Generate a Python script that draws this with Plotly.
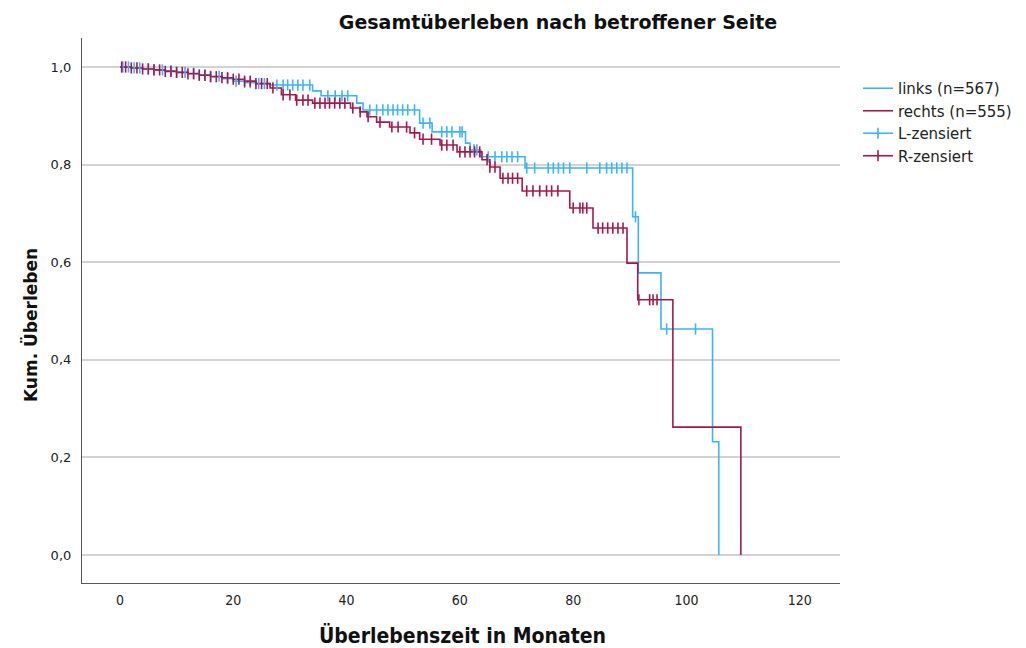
import bisect
import plotly.graph_objects as go

# Kaplan-Meier step curves (month, cumulative survival after the step)
links_t = [0, 2, 4, 6, 8, 10, 12, 14, 16, 18, 20, 22, 24, 26.5, 34, 35.5, 41.8, 42.9,
           52.9, 55.1, 61.0, 61.8, 63.7, 71.5, 90.5, 91.5, 95.5, 104.6, 105.7]
links_s = [1.0, 0.998, 0.996, 0.994, 0.992, 0.989, 0.987, 0.984, 0.981, 0.976, 0.971,
           0.968, 0.966, 0.963, 0.951, 0.941, 0.926, 0.912, 0.885, 0.867, 0.844, 0.83,
           0.816, 0.793, 0.693, 0.578, 0.463, 0.232, 0.0]

rechts_t = [0, 2, 4, 6, 8, 10, 12, 14, 16, 18, 20, 22, 24, 26.5, 28.5, 31, 34, 40.7,
            42.4, 43.6, 45.3, 47.6, 51.2, 52.9, 56.5, 59.5, 63.9, 65.3, 67.1, 71.0,
            79.4, 83.5, 89.5, 91.4, 97.6, 109.6]
rechts_s = [1.0, 0.998, 0.996, 0.994, 0.991, 0.989, 0.986, 0.983, 0.98, 0.978, 0.975,
            0.971, 0.966, 0.957, 0.943, 0.932, 0.926, 0.916, 0.908, 0.898, 0.887, 0.877,
            0.865, 0.852, 0.84, 0.826, 0.81, 0.795, 0.772, 0.746, 0.711, 0.67, 0.598,
            0.523, 0.262, 0.0]

# Censored observations (months)
links_cens = [0.5, 1.5, 2.5, 3.5, 5, 6, 7.5, 9, 10, 11.5, 13, 14, 15, 16, 17.5, 19,
              20.5, 22, 23, 24.5, 25.5, 27.7, 28.8, 29.6, 30.5, 31.4, 32.3, 33.5,
              36.7, 38, 39.2, 40.2, 44.1, 45.3, 46.4, 47.3, 48.2, 49, 49.9, 50.8, 52,
              53.5, 54.7, 56.8, 57.7, 58.6, 60, 60.4, 62.5, 63, 65, 66.2, 67.4, 68.3,
              69.2, 70.2, 71.8, 73.2, 75.6, 76.5, 77.4, 78.3, 79.4, 82.4, 84.7, 85.9,
              86.8, 87.7, 88.6, 89.5, 91, 96.5, 101.6]
rechts_cens = [0.3, 1, 2, 3, 4, 5, 6, 7, 8, 9, 10, 11, 12, 13, 14, 15, 16, 17, 18, 19,
               20, 21, 22, 23, 24, 25, 26, 27, 28.8, 30, 31.2, 32.3, 33.2, 34.4, 35.3,
               36.2, 37, 37.9, 38.8, 39.7, 41.1, 42.4, 43.8, 45.9, 48, 49.1, 50.6, 52,
               53.5, 55, 56.8, 57.7, 58.8, 60, 60.9, 61.8, 62.6, 63.5, 64.8, 65.3, 66.2,
               67.6, 68.5, 69.3, 70.2, 71.8, 72.9, 74.1, 75.3, 76.2, 77.3, 80, 81.2,
               81.7, 82.4, 84.4, 85.2, 86.1, 87, 87.9, 88.8, 91.6, 93.5, 94.1, 94.8]

y_ticks = [0.0, 0.2, 0.4, 0.6, 0.8, 1.0]
x_ticks = [0, 20, 40, 60, 80, 100, 120]

BLUE = "#3db3f8"
RED = "#a3194f"

# plot-area geometry in pixels
FIG_W, FIG_H = 1026, 648
L, R, T, B = 82, 840, 38, 583
PW, PH = R - L, B - T


def surv_at(times, surv, t):
    """Survival value of the step curve at month t."""
    return surv[bisect.bisect_right(times, t) - 1]


def gapped(values):
    out = []
    for v in values:
        out += [v, None]
    return out


fig = go.Figure()

fig.add_trace(go.Scatter(x=links_t, y=links_s, mode="lines", line_shape="hv",
                         line=dict(color=BLUE, width=1.6), name="links (n=567)"))
fig.add_trace(go.Scatter(x=rechts_t, y=rechts_s, mode="lines", line_shape="hv",
                         line=dict(color=RED, width=1.6), name="rechts (n=555)"))

for name, color, cens, times, surv in [
    ("L-zensiert", BLUE, links_cens, links_t, links_s),
    ("R-zensiert", RED, rechts_cens, rechts_t, rechts_s),
]:
    ys = [surv_at(times, surv, t) for t in cens]
    fig.add_trace(go.Scatter(
        x=gapped(cens), y=gapped(ys), mode="lines+markers", connectgaps=False,
        line=dict(color=color, width=1.6),
        marker=dict(symbol="line-ns-open", size=8, line=dict(color=color, width=1.6)),
        name=name))

fig.update_layout(
    width=FIG_W, height=FIG_H,
    margin=dict(l=L, r=FIG_W - R, t=T, b=FIG_H - B, autoexpand=False),
    paper_bgcolor="white", plot_bgcolor="white",
    separators=",.",
    font=dict(family="DejaVu Sans", color="#222222"),
    title=dict(text="<b>Gesamtüberleben nach betroffener Seite</b>",
               x=558 / FIG_W, xanchor="center", y=1 - 22 / FIG_H, yanchor="middle",
               font=dict(size=19, color="#111111")),
    showlegend=True,
    legend=dict(x=(858 - L) / PW, xanchor="left", y=1 - (72 - T) / PH, yanchor="top",
                font=dict(size=15, color="#222222"), itemwidth=30,
                tracegroupgap=0, bgcolor="rgba(0,0,0,0)"),
    annotations=[
        dict(text="<b>Überlebenszeit in Monaten</b>", xref="paper", yref="paper",
             x=(462 - L) / PW, y=(B - 635) / PH, xanchor="center", yanchor="middle",
             showarrow=False,
             font=dict(family="DejaVu Sans Condensed", size=21, color="#111111")),
        dict(text="<b>Kum. Überleben</b>", xref="paper", yref="paper",
             x=(30 - L) / PW, y=(B - 325) / PH, xanchor="center", yanchor="middle",
             textangle=-90, showarrow=False,
             font=dict(size=17, color="#111111")),
    ],
)

fig.update_xaxes(
    range=[-6.7, 127.1], tickvals=x_ticks, ticktext=[str(v) for v in x_ticks],
    showgrid=False, zeroline=False, showline=True, linecolor="#555555", linewidth=1.2,
    ticks="", ticklabelstandoff=4, automargin=False,
    tickfont=dict(family="DejaVu Sans Condensed", size=14, color="#222222"),
)
fig.update_yaxes(
    range=[-0.0574, 1.0594], tickvals=y_ticks, tickformat=".1f",
    showgrid=True, gridcolor="#d2d2d2", gridwidth=1.5, zeroline=False,
    showline=True, linecolor="#555555", linewidth=1.2, ticks="", ticklabelstandoff=7,
    automargin=False,
    tickfont=dict(size=13, color="#222222"),
)

fig.write_html("out.html")
